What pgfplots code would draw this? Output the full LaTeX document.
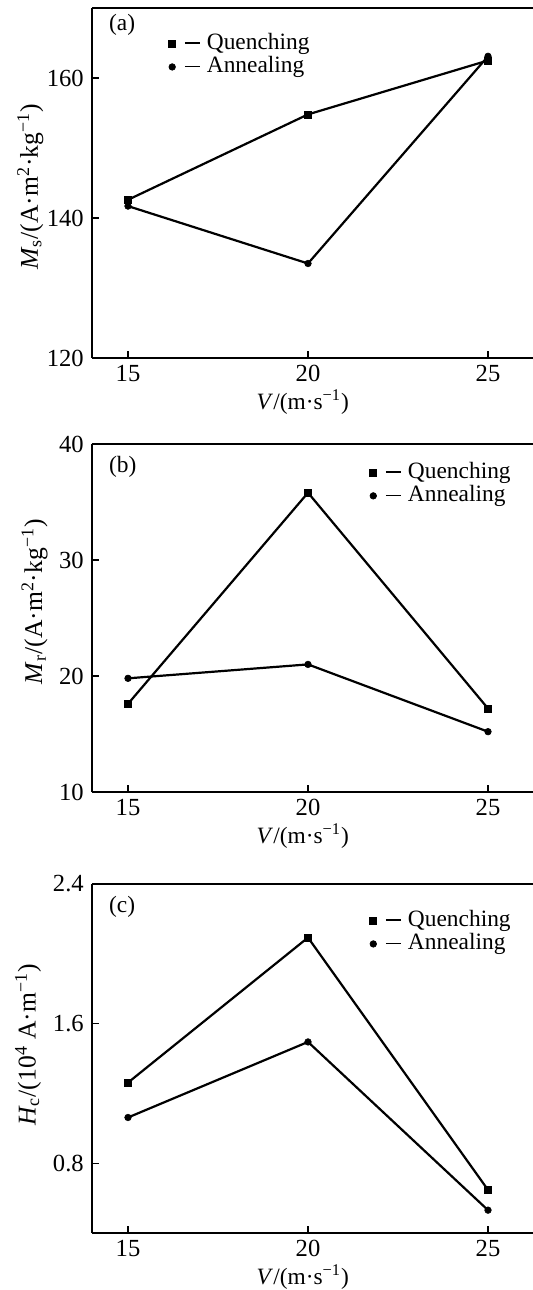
\documentclass[border=0pt]{standalone}
\usepackage{fontspec}
\setmainfont{Liberation Serif}
\usepackage{pgfplots}
\pgfplotsset{compat=1.18}

\pgfplotstableread{
x q a
15 142.6 141.7
20 154.8 133.5
25 162.5 163.1
}\tabA
\pgfplotstableread{
x q a
15 17.6 19.8
20 35.8 21.0
25 17.2 15.2
}\tabB
\pgfplotstableread{
x q a
15 1.262 1.062
20 2.093 1.495
25 0.647 0.531
}\tabC

\newcommand{\fnt}{\fontsize{11.7}{14}\selectfont}
\newcommand{\tfnt}{\fontsize{12.3}{14}\selectfont}
\newcommand{\lfnt}{\fontsize{12.8}{15}\selectfont}
\newcommand{\dash}{\hspace{4.6pt}\rule[2.7pt]{7.5pt}{0.8pt}\hspace{3.5pt}}
\pgfplotsset{
 panel/.style={
  scale only axis, width=220.5pt,
  xmin=14, xmax=26.25,
  xtick={15,20,25},
  axis x line*=box, axis y line*=left,
  xtick pos=left, ytick pos=left,
  tick align=inside, major tick length=3.4pt,
  axis line style={line width=0.8pt},
  every tick/.style={black, line width=0.6pt},
  xticklabel={\tfnt\pgfmathprintnumber[assume math mode=true]{\tick}},
  yticklabel={\tfnt\pgfmathprintnumber[assume math mode=true]{\tick}},
  yticklabel style={xshift=-0.6pt},
  xlabel={\textit{V}/(m·s\textsuperscript{−1})},
  xlabel style={font=\fnt, at={(axis description cs:0.478,0)}, anchor=center, yshift=-22pt},
  ylabel style={font=\lfnt},
  clip=false,
  legend style={draw=none, fill=none, inner sep=0pt, font=\fnt,
    nodes={inner sep=0pt, text height=8.7pt, text depth=3pt}},
  legend cell align=left,
  legend image code/.code={%
    \draw[##1] plot coordinates {(0pt,0pt)};},
 },
 qs/.style={black, line width=1.1pt, mark=square*, mark size=1.75pt, mark options={solid, fill=black, line width=0.3pt}},
 as/.style={black, line width=1.1pt, mark=*, mark size=1.65pt, mark options={solid, fill=black, line width=0.3pt}},
}

\begin{document}
\begin{tikzpicture}
% (a)
\begin{axis}[panel, at={(46pt,-4pt)}, anchor=north west, height=175pt,
  ymin=120, ymax=170, ytick={120,140,160},
  ylabel={\textit{M}\textsubscript{s}/(A·m\textsuperscript{2}·kg\textsuperscript{−1})},
  ylabel style={at={(axis description cs:-0.14,0.489)}, anchor=center},
  legend style={at={(axis description cs:0.173,0.933)}, anchor=north west}]
\addplot[qs] table[x=x,y=q]{\tabA};
\addplot[as] table[x=x,y=a]{\tabA};
\legend{\dash Quenching, \dash Annealing}
\node[anchor=west, font=\fnt] at (axis description cs:0.0227,0.951) {(a)};
\end{axis}
% (b)
\begin{axis}[panel, at={(46pt,-222pt)}, anchor=north west, height=174pt,
  ymin=10, ymax=40, ytick={10,20,30,40},
  ylabel={\textit{M}\textsubscript{r}/(A·m\textsuperscript{2}·kg\textsuperscript{−1})},
  ylabel style={at={(axis description cs:-0.13,0.547)}, anchor=center},
  legend style={at={(axis description cs:0.629,0.953)}, anchor=north west}]
\addplot[qs] table[x=x,y=q]{\tabB};
\addplot[as] table[x=x,y=a]{\tabB};
\legend{\dash Quenching, \dash Annealing}
\node[anchor=west, font=\fnt] at (axis description cs:0.0227,0.934) {(b)};
\end{axis}
% (c)
\begin{axis}[panel, at={(46pt,-442pt)}, anchor=north west, height=174.5pt,
  ymin=0.4, ymax=2.4, ytick={0.8,1.6,2.4},
  yticklabel={\tfnt\pgfmathprintnumber[assume math mode=true, fixed, fixed zerofill, precision=1]{\tick}},
  ylabel={\textit{H}\textsubscript{c}/(10\textsuperscript{4} A·m\textsuperscript{−1})},
  ylabel style={at={(axis description cs:-0.145,0.539)}, anchor=center},
  legend style={at={(axis description cs:0.629,0.930)}, anchor=north west}]
\addplot[qs] table[x=x,y=q]{\tabC};
\addplot[as] table[x=x,y=a]{\tabC};
\legend{\dash Quenching, \dash Annealing}
\node[anchor=west, font=\fnt] at (axis description cs:0.0227,0.934) {(c)};
\end{axis}
\pgfresetboundingbox
\path[use as bounding box] (0pt,0pt) rectangle (266.5pt,-645pt);
\end{tikzpicture}
\end{document}
